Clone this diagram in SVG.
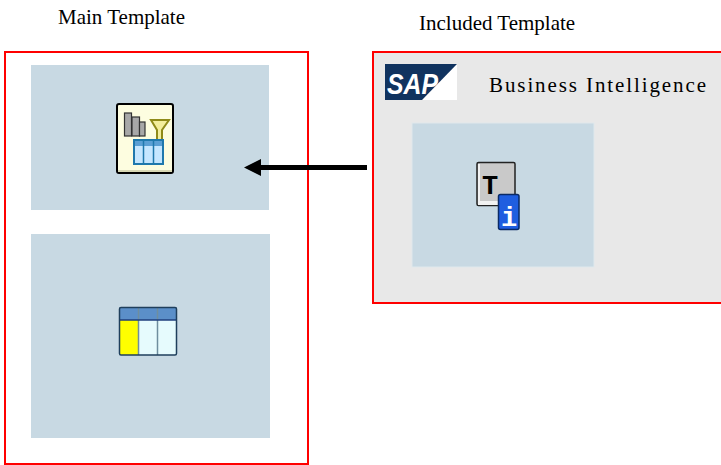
<svg xmlns="http://www.w3.org/2000/svg" width="721" height="465" viewBox="0 0 721 465">
<style>
.lbl{font-family:"Liberation Serif","Times New Roman",serif;font-size:21px;fill:#000}
.frame{stroke:#f00;stroke-width:2}
.panel{fill:#c8d9e3}
.hd{fill:#5b8fc9}
.dk{stroke:#1f3f5c;fill:none}
</style>
<rect width="721" height="465" fill="#fff"/>
<g id="main-template">
<text class="lbl" x="58" y="24">Main Template</text>
<rect class="frame" x="5" y="52" width="303" height="412" fill="#fff"/>
</g>
<g id="panel-top">
<rect class="panel" x="31" y="65" width="238" height="145"/>
<rect x="117" y="104" width="56" height="69" rx="2" fill="#fdfde0" stroke="#000" stroke-width="2"/>
<path d="M118 170H172V172H118Z" fill="#d8d8b4"/>
<g stroke="#333" stroke-width="1.2" fill="#a8a8a8">
<rect x="124.500" y="113" width="7" height="23"/>
<rect x="132" y="117" width="7.500" height="19"/>
<rect x="139.500" y="122" width="5.500" height="14"/>
</g>
<path d="M151 120H169L162 130V140H157V130Z" fill="#f3ee9c" stroke="#8f8a18" stroke-width="2"/>
<rect x="134" y="140" width="29" height="24" fill="#c5e6ff" stroke="#1f78ad" stroke-width="2"/>
<rect x="135" y="141" width="27" height="5" fill="#5b9fd4"/>
<path d="M143.500 140V164M153.500 140V164" stroke="#1f78ad" stroke-width="1.500"/>
</g>
<g id="panel-bottom">
<rect class="panel" x="31" y="234" width="239" height="204"/>
<rect x="119.500" y="320" width="57" height="35" fill="#e6fbfd"/>
<rect x="120" y="320" width="18" height="35" fill="#ffff00"/>
<rect class="hd" x="119.500" y="307.500" width="57" height="12.500"/>
<path d="M138.500 307.500V355M157.500 307.500V355" stroke="#6f8e9e" stroke-width="1.500"/>
<path d="M119.500 320H176.500" stroke="#1f3f7c" stroke-width="1.500"/>
<rect class="dk" x="119.500" y="307.500" width="57" height="47.500" rx="1.500" stroke-width="1.500"/>
</g>
<g id="included-template">
<text class="lbl" x="419" y="30">Included Template</text>
<rect class="frame" x="373" y="52" width="352" height="251" fill="#e8e8e8"/>
<g id="sap-logo">
<rect x="385" y="64" width="72" height="36" fill="#fff"/>
<path d="M385 64H457L422 100H385Z" fill="#10335f"/>
<text x="387" y="94" font-family="'Liberation Sans',Arial,sans-serif" font-size="30" font-weight="700" font-style="italic" fill="#fff" textLength="51" lengthAdjust="spacingAndGlyphs">SAP</text>
</g>
<text class="lbl" x="489" y="92" textLength="217">Business Intelligence</text>
</g>
<g id="panel-included">
<rect x="412" y="123" width="182" height="144" class="panel" stroke="#dfe8ec"/>
<rect x="477" y="162.500" width="38" height="43" rx="1.500" fill="#c9c9c9" stroke="#222" stroke-width="1.500"/>
<path d="M478 201H514V205H478ZM478 164H480V201H478Z" fill="#f2f2f2"/>
<text x="490" y="194" font-family="'Liberation Mono','DejaVu Sans Mono',monospace" font-size="27" font-weight="700" fill="#000" text-anchor="middle">T</text>
<rect x="498.500" y="194.500" width="20.500" height="35" rx="2" fill="#1f5ee0" stroke="#0a2a66" stroke-width="1.500"/>
<text x="509" y="226" font-family="'Liberation Mono','DejaVu Sans Mono',monospace" font-size="27" font-weight="700" fill="#fff" text-anchor="middle">i</text>
</g>
<g id="connectors">
<path d="M367 167.500H258" stroke="#000" stroke-width="5" fill="none"/>
<path d="M244 167.500L261 159V176Z" fill="#000"/>
</g>
</svg>
